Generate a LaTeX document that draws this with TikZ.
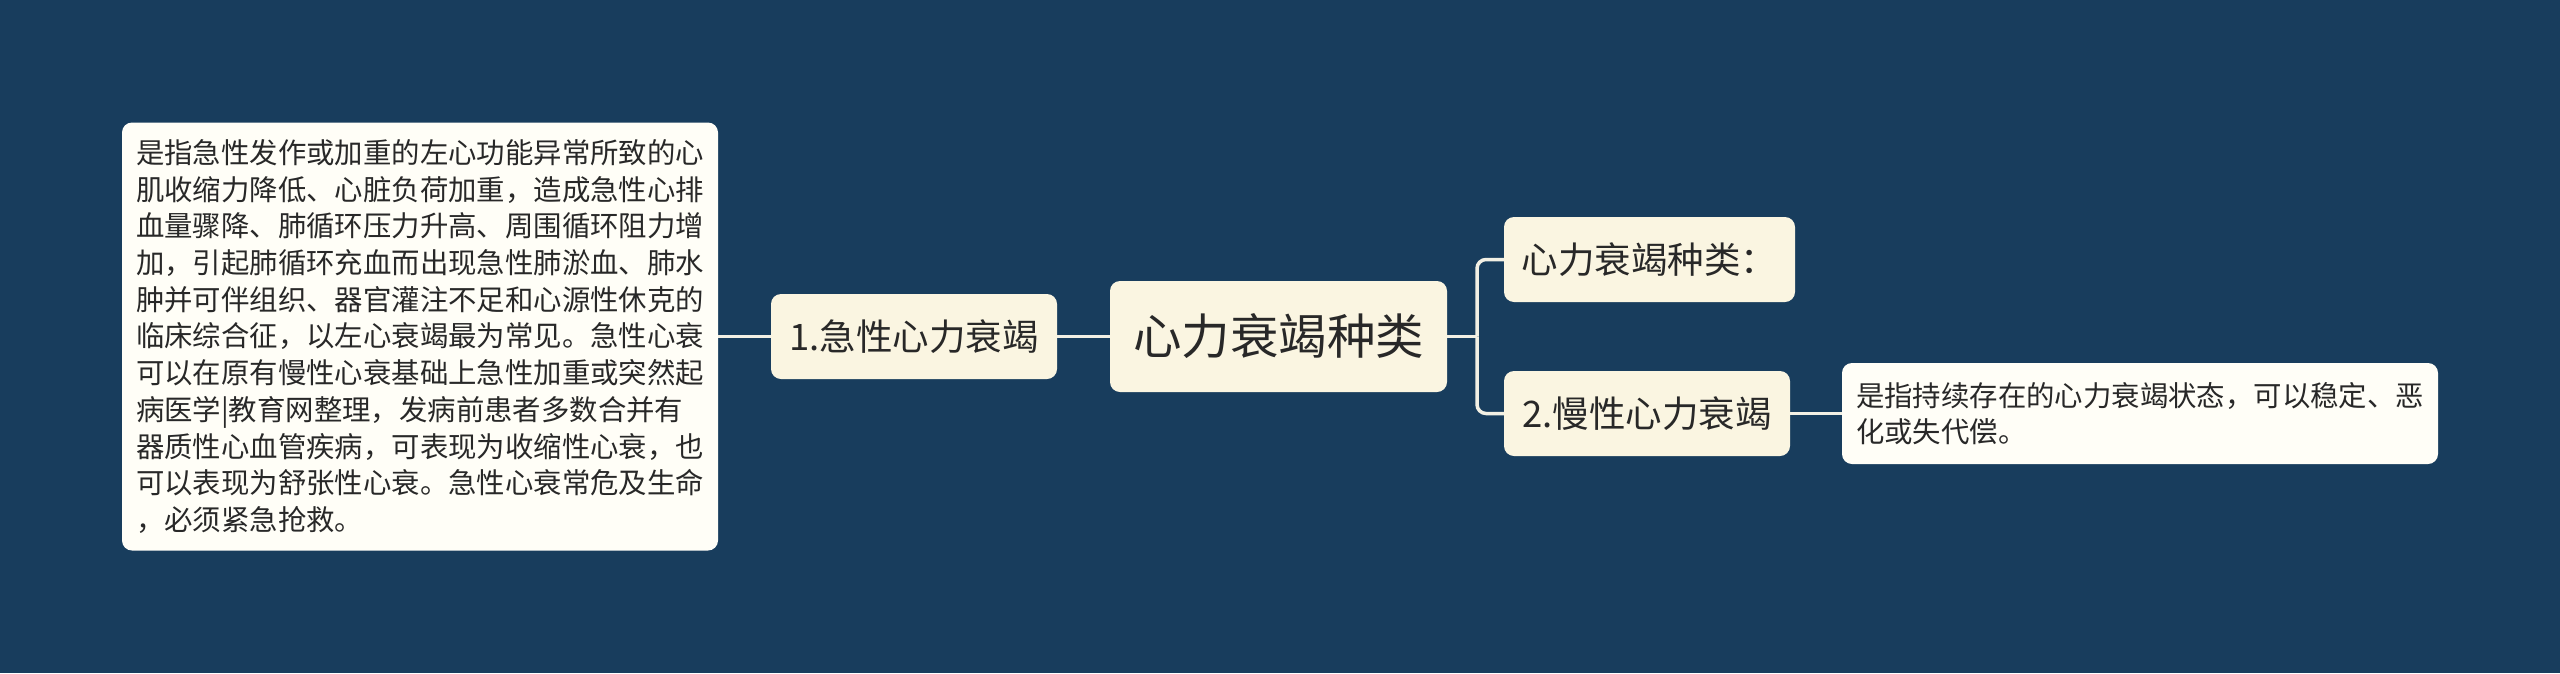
\documentclass[tikz,border=0pt]{standalone}
\usepackage{fontspec}
\setmainfont{Noto Sans CJK SC}
\usepackage{tikz}
\usetikzlibrary{positioning}
\definecolor{bgblue}{RGB}{24,61,93}
\definecolor{cream}{RGB}{250,245,225}
\definecolor{paper}{RGB}{255,254,247}
\definecolor{ink}{RGB}{40,40,40}
\definecolor{linkc}{RGB}{242,240,228}

\begin{document}
\begin{tikzpicture}[x=1pt,y=-1pt,
  every node/.style={text=ink, rounded corners=10pt},
  rootnode/.style={fill=cream, minimum width=337pt, minimum height=111pt,
    font=\fontsize{48.5}{58}\selectfont},
  branchnode/.style={fill=cream, minimum height=85pt,
    font=\fontsize{36.5}{44}\selectfont},
  notebox/.style={fill=paper, align=left, text width=568pt, inner xsep=14pt,
    font=\fontsize{28.4}{36.7}\selectfont},
  link/.style={draw=linkc, line width=3.5pt, rounded corners=9pt}]

%---------------------------------------
% Canvas
%---------------------------------------
\useasboundingbox (0,0) rectangle (2560,673);
\fill[bgblue] (0,0) rectangle (2560,673);

\def\midY{336.5}
\def\topY{259.5}
\def\lowY{413.5}
\def\forkX{1477}

%====================================================
% Centre and left side
%====================================================
\node[rootnode] (root) at (1278.5,\midY) {心力衰竭种类};
\node[branchnode, minimum width=286pt] (acute) at (914,\midY) {1.急性心力衰竭};
\node[notebox, minimum height=428pt] (acutenote) at (420,\midY)
  {是指急性发作或加重的左心功能异常所致的心\\
   肌收缩力降低、心脏负荷加重，造成急性心排\\
   血量骤降、肺循环压力升高、周围循环阻力增\\
   加，引起肺循环充血而出现急性肺淤血、肺水\\
   肿并可伴组织、器官灌注不足和心源性休克的\\
   临床综合征，以左心衰竭最为常见。急性心衰\\
   可以在原有慢性心衰基础上急性加重或突然起\\
   病医学|教育网整理，发病前患者多数合并有\\
   器质性心血管疾病，可表现为收缩性心衰，也\\
   可以表现为舒张性心衰。急性心衰常危及生命\\
   ，必须紧急抢救。};

%====================================================
% Right side
%====================================================
\node[branchnode, minimum width=291pt] (kinds) at (1649.5,\topY) {心力衰竭种类：};
\node[branchnode, minimum width=286pt] (chronic) at (1647,\lowY) {2.慢性心力衰竭};
\node[notebox, minimum height=101pt] (chronicnote) at (2140,\lowY)
  {是指持续存在的心力衰竭状态，可以稳定、恶\\
   化或失代偿。};

% Links
\draw[link] (acutenote.east) -- (acute.west);
\draw[link] (acute.east) -- (root.west);
\draw[link] (root.east) -- (\forkX,\midY);
\draw[link] (\forkX,\midY) |- (kinds.west);
\draw[link] (\forkX,\midY) |- (chronic.west);
\draw[link] (chronic.east) -- (chronicnote.west);

\end{tikzpicture}
\end{document}
